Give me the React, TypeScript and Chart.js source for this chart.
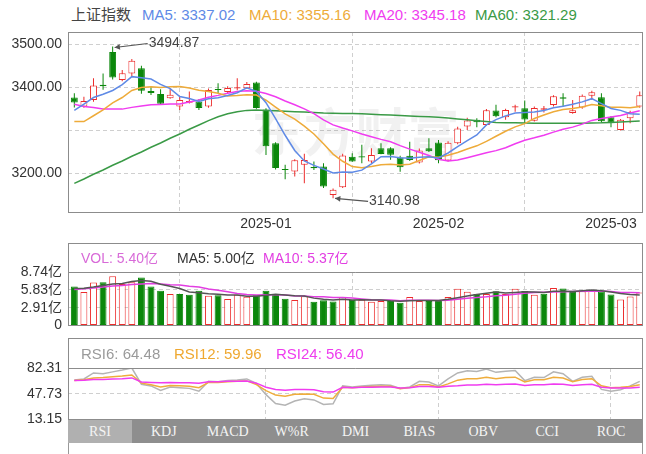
import React, { useEffect, useRef } from 'react';
import { Chart, registerables } from 'chart.js';
Chart.register(...registerables);

// ---------------- data ----------------
const dates = [
  '2024-12-04','2024-12-05','2024-12-06','2024-12-09','2024-12-10','2024-12-11','2024-12-12','2024-12-13','2024-12-16','2024-12-17',
  '2024-12-18','2024-12-19','2024-12-20','2024-12-23','2024-12-24','2024-12-25','2024-12-26','2024-12-27','2024-12-30','2024-12-31',
  '2025-01-02','2025-01-03','2025-01-06','2025-01-07','2025-01-08','2025-01-09','2025-01-10','2025-01-13','2025-01-14','2025-01-15',
  '2025-01-16','2025-01-17','2025-01-20','2025-01-21','2025-01-22','2025-01-23','2025-01-24','2025-01-27','2025-02-05','2025-02-06',
  '2025-02-07','2025-02-10','2025-02-11','2025-02-12','2025-02-13','2025-02-14','2025-02-17','2025-02-18','2025-02-19','2025-02-20',
  '2025-02-21','2025-02-24','2025-02-25','2025-02-26','2025-02-27','2025-02-28','2025-03-03','2025-03-04','2025-03-05','2025-03-06',
];
const opens = [
  3376, 3355, 3370, 3405.5, 3482, 3417, 3432, 3444, 3391, 3384,
  3374, 3355, 3364, 3366.5, 3355, 3396, 3389, 3397, 3397.5, 3411,
  3348, 3269.5, 3209.5, 3203.5, 3219, 3214, 3215, 3149, 3167, 3238,
  3239, 3227, 3257.8, 3257.8, 3236, 3240, 3224.4, 3258, 3271, 3229,
  3269.5, 3308.3, 3324, 3312, 3345.6, 3330, 3353, 3351, 3322, 3347.5,
  3358.8, 3376.5, 3340, 3353, 3380, 3376.7, 3330, 3300.5, 3327.7, 3355,
];
const highs = [
  3386, 3378, 3421, 3432, 3494.87, 3440, 3466, 3450, 3401, 3395,
  3397, 3378, 3390, 3372, 3397, 3409, 3402, 3421, 3412, 3413,
  3351, 3272, 3219, 3232, 3245, 3226.7, 3223, 3164, 3245, 3246,
  3265.6, 3258, 3269.5, 3260, 3240, 3273, 3257, 3281, 3277, 3274,
  3308, 3329, 3327.7, 3349, 3359, 3350, 3359, 3369, 3355, 3356,
  3381, 3386, 3370, 3383, 3392, 3386, 3333, 3326, 3345, 3390,
];
const lows = [
  3353, 3352, 3366, 3394, 3418, 3414, 3425, 3385, 3382, 3359,
  3373, 3347, 3362, 3347, 3352, 3386, 3386, 3393, 3396, 3350,
  3242, 3208, 3185.5, 3192, 3176, 3207, 3165, 3140.98, 3165, 3226,
  3223, 3223, 3244, 3231, 3203, 3228, 3222, 3249, 3223, 3227,
  3267, 3300.5, 3306.8, 3310, 3330, 3324, 3343, 3316, 3320, 3341,
  3355, 3355, 3338, 3350, 3370, 3318, 3306.8, 3299, 3316, 3352,
];
const closes = [
  3364.65, 3368.07, 3404.08, 3402.53, 3422.66, 3432.49, 3461.50, 3391.88, 3386.33, 3361.49,
  3382.21, 3370.03, 3368.07, 3351.26, 3393.53, 3393.35, 3398.08, 3400.14, 3407.33, 3351.76,
  3262.56, 3211.43, 3206.92, 3229.64, 3230.17, 3211.39, 3168.52, 3160.76, 3240.94, 3227.12,
  3236.03, 3241.82, 3244.38, 3242.62, 3213.62, 3230.16, 3252.63, 3250.60, 3229.49, 3270.66,
  3303.67, 3322.17, 3318.06, 3346.39, 3332.48, 3346.72, 3355.83, 3324.49, 3351.54, 3350.78,
  3379.11, 3373.03, 3346.04, 3380.21, 3388.06, 3320.90, 3316.93, 3324.21, 3341.96, 3381.10,
];
const prevCloseBeforeFirst = 3378.81;

const ma5 = [
  3345.92, 3360.39, 3375.92, 3383.63, 3392.40, 3405.97, 3424.65, 3422.21, 3418.97, 3406.74,
  3396.68, 3378.39, 3373.63, 3366.61, 3373.02, 3375.25, 3380.86, 3387.27, 3398.49, 3390.13,
  3363.97, 3326.64, 3288.00, 3252.46, 3228.14, 3217.91, 3209.33, 3200.10, 3202.36, 3201.75,
  3206.67, 3221.33, 3238.06, 3238.39, 3235.69, 3234.52, 3236.68, 3237.93, 3235.30, 3246.71,
  3261.41, 3275.32, 3288.81, 3312.19, 3324.55, 3333.16, 3339.90, 3341.18, 3342.21, 3345.87,
  3352.35, 3355.79, 3360.10, 3365.83, 3373.29, 3361.65, 3350.43, 3346.06, 3338.41, 3337.02,
];
const ma10 = [
  3320.05, 3319.82, 3333.51, 3347.39, 3363.68, 3375.95, 3392.52, 3399.07, 3401.30, 3399.57,
  3401.33, 3401.52, 3397.92, 3392.79, 3389.88, 3385.97, 3379.63, 3380.45, 3382.55, 3381.58,
  3369.61, 3353.75, 3337.64, 3325.48, 3309.14, 3290.94, 3267.99, 3244.05, 3227.41, 3214.95,
  3212.29, 3215.33, 3219.08, 3220.38, 3218.72, 3220.60, 3229.01, 3238.00, 3236.85, 3241.20,
  3247.97, 3256.00, 3263.37, 3273.75, 3285.63, 3297.29, 3307.61, 3315.00, 3327.20, 3335.21,
  3342.76, 3347.85, 3350.64, 3354.02, 3359.58, 3357.00, 3353.11, 3353.08, 3352.12, 3355.16,
];
const ma20 = [
  3360.16, 3355.03, 3352.62, 3349.25, 3349.28, 3348.94, 3353.02, 3356.08, 3359.21, 3359.98,
  3360.69, 3360.67, 3365.72, 3370.09, 3376.78, 3380.96, 3386.08, 3389.76, 3391.93, 3390.58,
  3385.47, 3377.64, 3367.78, 3359.14, 3349.51, 3338.46, 3323.81, 3312.25, 3304.98, 3298.27,
  3290.95, 3284.54, 3278.36, 3272.93, 3263.93, 3255.77, 3248.50, 3241.03, 3232.13, 3228.08,
  3230.13, 3235.67, 3241.23, 3247.07, 3252.18, 3258.95, 3268.31, 3276.50, 3282.03, 3288.21,
  3295.37, 3301.93, 3307.01, 3313.89, 3322.61, 3327.15, 3330.36, 3334.04, 3339.66, 3345.18,
];
const ma60 = [
  3176, 3186, 3197, 3207, 3218, 3228, 3239, 3249, 3260, 3270,
  3281, 3291, 3302, 3312, 3322, 3331, 3338, 3343, 3346, 3347,
  3346, 3345, 3344, 3343, 3342, 3341, 3340, 3339.5, 3339, 3338.5,
  3338, 3337, 3336, 3335, 3334, 3333, 3332, 3331, 3330, 3328,
  3326, 3324, 3322, 3320, 3318, 3317, 3317, 3316.5, 3316, 3316,
  3316, 3316, 3316, 3316, 3316.5, 3317, 3318, 3319, 3320, 3321.29,
];

const volumes = [
  6.36, 5.47, 7.03, 7.06, 8.06, 6.80, 7.06, 7.84, 6.36, 5.69,
  5.15, 5.15, 5.02, 5.69, 4.88, 4.93, 4.34, 5.02, 4.70, 4.93,
  5.69, 5.15, 4.39, 4.17, 4.80, 3.90, 4.13, 3.95, 4.66, 4.17,
  4.20, 3.90, 4.00, 4.03, 3.72, 4.66, 4.03, 4.03, 4.03, 4.66,
  6.00, 5.50, 5.15, 5.15, 5.60, 5.15, 6.00, 5.65, 5.02, 5.20,
  6.13, 6.04, 5.47, 5.60, 5.73, 5.56, 5.07, 4.25, 4.75, 5.40,
];
const volMa5 = [
  6.05, 6.10, 6.30, 6.55, 6.80, 6.88, 7.20, 7.36, 7.22, 6.75,
  6.42, 6.04, 5.47, 5.34, 5.18, 5.13, 4.97, 4.97, 4.77, 4.78,
  4.94, 5.10, 4.97, 4.87, 4.84, 4.48, 4.28, 4.19, 4.29, 4.16,
  4.22, 4.18, 4.19, 4.06, 3.97, 4.06, 4.09, 4.09, 4.09, 4.28,
  4.55, 4.84, 5.07, 5.29, 5.48, 5.31, 5.41, 5.51, 5.48, 5.40,
  5.60, 5.61, 5.57, 5.69, 5.79, 5.68, 5.49, 5.24, 5.07, 5.00,
];
const volMa10 = [
  5.90, 6.00, 6.15, 6.30, 6.45, 6.55, 6.70, 6.80, 6.85, 6.78,
  6.65, 6.62, 6.42, 6.28, 5.97, 5.78, 5.51, 5.22, 5.06, 4.98,
  5.04, 5.04, 4.97, 4.82, 4.81, 4.71, 4.69, 4.58, 4.58, 4.50,
  4.35, 4.23, 4.19, 4.18, 4.07, 4.14, 4.14, 4.14, 4.08, 4.13,
  4.31, 4.47, 4.58, 4.69, 4.88, 4.93, 5.13, 5.29, 5.39, 5.44,
  5.46, 5.51, 5.54, 5.59, 5.60, 5.64, 5.55, 5.41, 5.38, 5.37,
];

const rsi6 = [
  66.3, 67.7, 75.7, 74.5, 77.1, 79.5, 82.31, 60.6, 58.3, 52.2,
  56.9, 55.9, 55.0, 51.2, 64.4, 64.0, 65.4, 66.3, 67.7, 61.6,
  46.6, 34.8, 32.5, 38.1, 41.0, 39.5, 33.4, 34.3, 58.3, 56.9,
  58.3, 59.2, 59.7, 59.2, 55.0, 56.9, 64.4, 63.5, 58.3, 67.7,
  75.7, 78.5, 77.5, 81.0, 76.5, 78.0, 79.0, 65.4, 69.8, 69.5,
  77.1, 74.7, 64.4, 69.8, 71.2, 53.6, 51.2, 53.1, 58.3, 64.48,
];
const rsi12 = [
  65.5, 66.5, 69, 69.5, 70.5, 71.5, 73, 62, 60, 57,
  59, 58.5, 58, 56, 63, 63, 64, 64.5, 65, 60,
  52, 46, 44.5, 47, 47.5, 47, 42, 41.5, 56.5, 56,
  57, 57.5, 58, 58, 54.5, 56, 60, 60, 57, 61,
  66, 68, 68, 70, 68, 69.5, 70, 63.5, 66.5, 66.5,
  70, 69, 64, 67, 68, 58.5, 56, 56.5, 57.5, 59.96,
];
const rsi24 = [
  65.5, 66, 67, 67, 67.5, 68, 69, 63.5, 63, 62.5,
  63, 62.5, 62.5, 62, 64, 64, 64.5, 64.5, 65, 62,
  56.5, 53.5, 52.5, 53.5, 53.5, 53, 50.5, 50, 56.5, 56,
  56.5, 56.5, 57, 57, 55.5, 56, 57.5, 57.5, 56.5, 58,
  58.5, 59.5, 59.5, 60.5, 60, 60.5, 61, 59, 60, 60,
  61, 60.5, 59, 60, 60.5, 56.5, 55.5, 55.5, 55.5, 56.40,
];

const priceTicks = [3200, 3300, 3400, 3500];
const priceHiddenTick = 3300;
const priceMin = 3106.8;
const priceMax = 3528.7;
const volAxisMax = 8.74;
const rsiMin = 13.15;
const rsiMax = 82.31;
const tabs = ['RSI', 'KDJ', 'MACD', 'W%R', 'DMI', 'BIAS', 'OBV', 'CCI', 'ROC'];

// ---------------- styles ----------------
const FONT = 'Arial, "Liberation Sans", "Noto Sans CJK SC", sans-serif';
const RED = '#ec2b2b';
const GREEN = '#0b870b';
const GRID = '#cfcfcf';
const FRAME = '#8c8c8c';
const C_MA5 = '#5f8ae6';
const C_MA10 = '#eeab3a';
const C_MA20 = '#f03cf0';
const C_MA60 = '#3a9a46';
const X_MIN = -0.66;
const X_MAX = 59.34;

const monthTicks = dates
  .map((d, i) => (i > 0 && d.slice(0, 7) !== dates[i - 1].slice(0, 7) ? i : -1))
  .filter((i) => i >= 0);

const xy = (arr: number[]) => arr.map((v, i) => ({ x: i, y: v }));

function makeX(show: boolean, h: number) {
  return {
    type: 'linear',
    min: X_MIN,
    max: X_MAX,
    offset: false,
    afterBuildTicks: (s: any) => {
      s.ticks = monthTicks.map((v) => ({ value: v }));
    },
    afterFit: (s: any) => {
      s.height = h;
    },
    ticks: {
      display: show,
      autoSkip: false,
      maxRotation: 0,
      padding: 3,
      color: '#333',
      font: { family: FONT, size: 14 },
      callback: (v: number) => (dates[v] ? dates[v].slice(0, 7) : ''),
    },
    grid: { color: GRID, drawTicks: false, lineWidth: 1 },
    border: { display: false, dash: [4, 3] },
  };
}

function makeY(min: number, max: number, ticks: number[], fmt: (v: number) => string) {
  return {
    type: 'linear',
    position: 'left',
    min,
    max,
    afterBuildTicks: (s: any) => {
      s.ticks = ticks.map((v) => ({ value: v }));
    },
    afterFit: (s: any) => {
      s.width = 60;
    },
    ticks: {
      padding: 6,
      autoSkip: false,
      color: '#333',
      font: { family: FONT, size: 14 },
      callback: (v: number) => fmt(v),
    },
    grid: { color: GRID, drawTicks: false, lineWidth: 1 },
    border: { display: false, dash: [4, 3] },
  };
}

const framePlugin = {
  id: 'frame',
  afterDraw(chart: any, _args: any, opts: any) {
    const { ctx, chartArea: a } = chart;
    const top = opts && typeof opts.top === 'number' ? opts.top : a.top;
    const l = Math.round(a.left) + 0.5;
    const r = Math.round(a.right) - 0.5;
    const b = Math.round(a.bottom) - 0.5;
    const t = Math.round(top) + 0.5;
    ctx.save();
    ctx.strokeStyle = FRAME;
    ctx.lineWidth = 1;
    ctx.strokeRect(l, t, r - l, b - t);
    if (opts && opts.sep) {
      const s = Math.round(a.top) + 0.5;
      ctx.beginPath();
      ctx.moveTo(l, s);
      ctx.lineTo(r, s);
      ctx.stroke();
    }
    ctx.restore();
  },
};

const watermarkPlugin = {
  id: 'watermark',
  beforeDatasetsDraw(chart: any) {
    const { ctx, chartArea: a } = chart;
    ctx.save();
    ctx.fillStyle = 'rgba(0,0,0,0.055)';
    ctx.font = 'bold 52px "Noto Sans CJK SC", sans-serif';
    ctx.textAlign = 'center';
    ctx.textBaseline = 'middle';
    ctx.fillText('东方财富', (a.left + a.right) / 2 + 0, 132);
    ctx.restore();
  },
};

const extremaPlugin = {
  id: 'extrema',
  afterDatasetsDraw(chart: any) {
    const { ctx, scales } = chart;
    const x = scales.x;
    const y = scales.y;
    const hi = Math.max(...highs);
    const hiIdx = highs.indexOf(hi);
    const lo = Math.min(...lows);
    const loIdx = lows.indexOf(lo);
    const draw = (idx: number, val: number, dy: number) => {
      const px = x.getPixelForValue(idx);
      const py = y.getPixelForValue(val);
      const sx = px + 2;
      const sy = py + (dy < 0 ? 1 : 0);
      const ex = px + 35;
      const ey = py + dy;
      ctx.save();
      ctx.strokeStyle = '#555';
      ctx.fillStyle = '#555';
      ctx.lineWidth = 1.2;
      ctx.beginPath();
      ctx.moveTo(sx, sy);
      ctx.lineTo(ex, ey);
      ctx.stroke();
      const ang = Math.atan2(ey - sy, ex - sx);
      ctx.beginPath();
      ctx.moveTo(sx, sy);
      ctx.lineTo(sx + 6 * Math.cos(ang - 0.5), sy + 6 * Math.sin(ang - 0.5));
      ctx.lineTo(sx + 6 * Math.cos(ang + 0.5), sy + 6 * Math.sin(ang + 0.5));
      ctx.closePath();
      ctx.fill();
      ctx.font = `14px ${FONT}`;
      ctx.textAlign = 'left';
      ctx.textBaseline = 'middle';
      ctx.fillStyle = '#444';
      ctx.fillText(val.toFixed(2), ex + 1, ey);
      ctx.restore();
    };
    draw(hiIdx, hi, -3);
    draw(loIdx, lo, 3);
  },
};

const candleUp = closes.map((c, i) => c >= opens[i]);
const dayUp = closes.map((c, i) => c >= (i === 0 ? prevCloseBeforeFirst : closes[i - 1]));

const lineDs = (data: number[], color: string, order = 0) => ({
  type: 'line',
  data: xy(data),
  borderColor: color,
  borderWidth: 1.5,
  pointRadius: 0,
  tension: 0,
  order,
});

function ChartCanvas({ top, height, build }: { top: number; height: number; build: () => any }) {
  const ref = useRef<HTMLCanvasElement | null>(null);
  useEffect(() => {
    if (!ref.current) return;
    const chart = new Chart(ref.current, build());
    return () => chart.destroy();
  }, []);
  return (
    <canvas
      ref={ref}
      width={646}
      height={height}
      style={{ position: 'absolute', left: 0, top, width: 646, height }}
    />
  );
}

const baseOptions = (padding: any, scales: any, pluginOpts: any) => ({
  animation: false,
  responsive: false,
  maintainAspectRatio: false,
  events: [],
  layout: { padding },
  plugins: { legend: { display: false }, tooltip: { enabled: false }, ...pluginOpts },
  scales,
});

const buildMain = () => ({
  type: 'bar',
  data: {
    datasets: [
      lineDs(ma5, C_MA5),
      lineDs(ma10, C_MA10),
      lineDs(ma20, C_MA20),
      lineDs(ma60, C_MA60),
      {
        type: 'bar',
        data: closes.map((c, i) => ({ x: i, y: [opens[i], c] })),
        backgroundColor: candleUp.map((u) => (u ? '#ffffff' : GREEN)),
        borderColor: candleUp.map((u) => (u ? RED : GREEN)),
        borderWidth: 1,
        borderSkipped: false,
        grouped: false,
        maxBarThickness: 7,
        order: 1,
      },
      {
        type: 'bar',
        data: highs.map((h, i) => ({ x: i, y: [lows[i], h] })),
        backgroundColor: candleUp.map((u) => (u ? RED : GREEN)),
        borderWidth: 0,
        grouped: false,
        maxBarThickness: 1,
        order: 2,
      },
    ],
  },
  options: baseOptions(
    { top: 32, left: 8, right: 3, bottom: 0 },
    {
      x: makeX(true, 19),
      y: makeY(priceMin, priceMax, priceTicks, (v) => (v === priceHiddenTick ? '' : v.toFixed(2))),
    },
    { frame: {} }
  ),
  plugins: [watermarkPlugin, framePlugin, extremaPlugin],
});

const volTicks = [0, 1, 2, 3].map((k) => (volAxisMax * k) / 3);
const buildVol = () => ({
  type: 'bar',
  data: {
    datasets: [
      lineDs(volMa5, '#555555'),
      lineDs(volMa10, '#e23ee2'),
      {
        type: 'bar',
        data: xy(volumes),
        backgroundColor: dayUp.map((u) => (u ? '#ffffff' : GREEN)),
        borderColor: dayUp.map((u) => (u ? RED : GREEN)),
        borderWidth: 1,
        borderSkipped: false,
        grouped: false,
        maxBarThickness: 7,
        order: 1,
      },
    ],
  },
  options: baseOptions(
    { top: 29, left: 8, right: 3, bottom: 1 },
    {
      x: makeX(false, 0),
      y: makeY(0, volAxisMax, volTicks, (v) => (v === 0 ? '0' : v.toFixed(2) + '亿')),
    },
    { frame: { top: 0, sep: true } }
  ),
  plugins: [framePlugin],
});

const rsiTicks = [rsiMin, (rsiMin + rsiMax) / 2, rsiMax];
const buildRsi = () => ({
  type: 'line',
  data: {
    datasets: [lineDs(rsi24, '#f03cf0', 0), lineDs(rsi12, '#efad3c', 1), lineDs(rsi6, '#b4b4b4', 2)],
  },
  options: baseOptions(
    { top: 30, left: 8, right: 3, bottom: 14 },
    {
      x: makeX(false, 0),
      y: makeY(rsiMin, rsiMax, rsiTicks, (v) => v.toFixed(2)),
    },
    { frame: { top: 0, sep: true } }
  ),
  plugins: [framePlugin],
});

const legendText = (left: number, top: number, text: string, color: string, size = 15) => (
  <span
    key={text}
    style={{
      position: 'absolute',
      left,
      top,
      color,
      fontFamily: FONT,
      fontSize: size,
      lineHeight: '16px',
      whiteSpace: 'nowrap',
    }}
  >
    {text}
  </span>
);

export default function App() {
  const last = closes.length - 1;
  return (
    <div
      style={{
        position: 'fixed',
        left: 0,
        top: 0,
        width: 646,
        height: 454,
        background: '#fff',
        overflow: 'hidden',
      }}
    >
      {legendText(71, 7, '上证指数', '#444')}
      {legendText(142, 7, `MA5: ${ma5[last].toFixed(2)}`, C_MA5)}
      {legendText(249, 7, `MA10: ${ma10[last].toFixed(2)}`, C_MA10)}
      {legendText(364, 7, `MA20: ${ma20[last].toFixed(2)}`, C_MA20)}
      {legendText(475, 7, `MA60: ${ma60[last].toFixed(2)}`, C_MA60)}
      <ChartCanvas top={0} height={232} build={buildMain} />
      <ChartCanvas top={243} height={97} build={buildVol} />
      <ChartCanvas top={338} height={96} build={buildRsi} />
      {legendText(81, 250, `VOL: ${volumes[last].toFixed(2)}亿`, '#d86ad8', 14)}
      {legendText(177, 250, `MA5: ${volMa5[last].toFixed(2)}亿`, '#333', 14)}
      {legendText(263, 250, `MA10: ${volMa10[last].toFixed(2)}亿`, '#e23ee2', 14)}
      {legendText(81, 346, `RSI6: ${rsi6[last].toFixed(2)}`, '#9a9a9a')}
      {legendText(174, 346, `RSI12: ${rsi12[last].toFixed(2)}`, '#efa830')}
      {legendText(276, 346, `RSI24: ${rsi24[last].toFixed(2)}`, '#ee3cee')}
      <div
        style={{
          position: 'absolute',
          left: 68,
          top: 420,
          width: 575,
          height: 23,
          display: 'flex',
          background: '#8e8e8e',
        }}
      >
        {tabs.map((t, i) => (
          <div
            key={t}
            style={{
              flex: 1,
              textAlign: 'center',
              lineHeight: '23px',
              fontFamily: '"Liberation Serif", "DejaVu Serif", serif',
              fontSize: 14,
              color: '#f4f4f4',
              background: i === 0 ? '#b0b0b0' : 'transparent',
            }}
          >
            {t}
          </div>
        ))}
      </div>
      <div
        style={{
          position: 'absolute',
          left: 68,
          top: 443,
          width: 573,
          height: 20,
          borderLeft: '1px solid #999',
          borderRight: '1px solid #999',
          background: '#fff',
        }}
      />
    </div>
  );
}
